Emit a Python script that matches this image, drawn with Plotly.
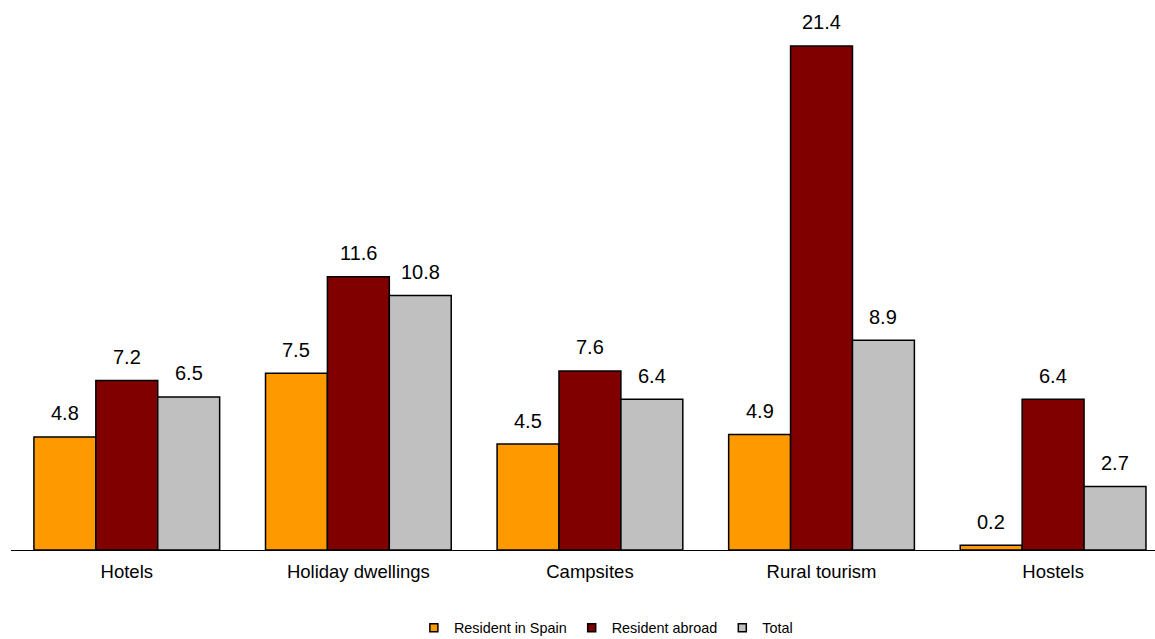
import plotly.graph_objects as go

categories = ["Hotels", "Holiday dwellings", "Campsites", "Rural tourism", "Hostels"]
series_names = ["Resident in Spain", "Resident abroad", "Total"]
resident_spain = [4.8, 7.5, 4.5, 4.9, 0.2]
resident_abroad = [7.2, 11.6, 7.6, 21.4, 6.4]
total = [6.5, 10.8, 6.4, 8.9, 2.7]
colors = ["#FF9900", "#800000", "#C0C0C0"]

series = [resident_spain, resident_abroad, total]
bargap = 0.198
bar_w = (1 - bargap) / 3
FONT = "Liberation Sans, Arial, sans-serif"

fig = go.Figure()
for name, vals, col in zip(series_names, series, colors):
    fig.add_trace(go.Bar(
        x=list(range(len(categories))), y=vals, name=name, showlegend=False,
        marker=dict(color=col, line=dict(color="black", width=1.5)),
    ))
# legend entries (small outlined squares)
for name, col in zip(series_names, colors):
    fig.add_trace(go.Scatter(
        x=[None], y=[None], mode="markers", name=name,
        marker=dict(symbol="square", size=8, color=col, line=dict(color="black", width=1.5)),
    ))

annotations = []
for k, vals in enumerate(series):
    for i, v in enumerate(vals):
        annotations.append(dict(
            x=i + (k - 1) * bar_w, y=v, xref="x", yref="y",
            text=f"{v:.1f}", showarrow=False, yanchor="bottom",
            yshift=10.5, font=dict(size=20, color="black", family=FONT),
        ))

fig.update_layout(
    width=1155, height=639,
    margin=dict(l=11, r=0, t=20, b=89, autoexpand=False),
    barmode="group", bargap=bargap, bargroupgap=0,
    plot_bgcolor="white", paper_bgcolor="white",
    font=dict(family=FONT, color="black", size=18.5),
    showlegend=True,
    legend=dict(orientation="h", x=0.52, xanchor="center", y=-0.147, yanchor="middle",
                font=dict(size=14.4), itemwidth=30, traceorder="normal",
                tracegroupgap=0),
    annotations=annotations,
)
fig.update_xaxes(showline=True, linecolor="black", linewidth=1, ticks="",
                 range=[-0.5, 4.44], tickvals=list(range(len(categories))),
                 ticktext=categories, ticklabelstandoff=5,
                 tickfont=dict(size=18.5), showgrid=False, zeroline=False)
fig.update_yaxes(range=[0, 22.5], visible=False, showgrid=False)

fig.write_html("out.html", config={"displayModeBar": False},
               post_script="document.body.style.margin='0';")
